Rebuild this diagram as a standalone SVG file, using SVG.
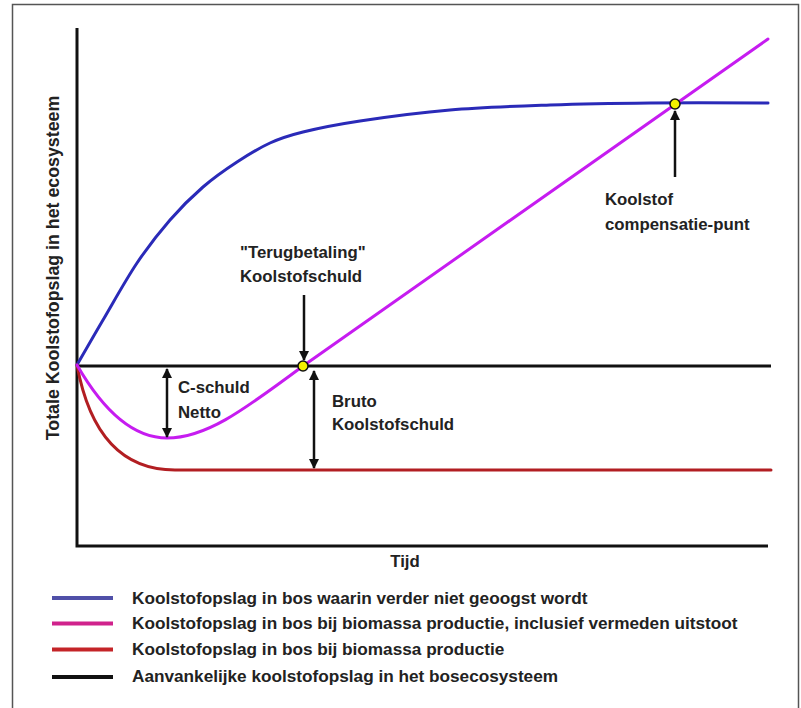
<svg xmlns="http://www.w3.org/2000/svg" width="801" height="708" viewBox="0 0 801 708">
<style>
.t{font-family:"Liberation Sans",Arial,sans-serif;font-weight:bold;font-size:16.8px;fill:#222}
.lg{font-family:"Liberation Sans",Arial,sans-serif;font-weight:bold;font-size:17.2px;fill:#222}
.curve{fill:none;stroke-width:3;stroke-linejoin:round;stroke-linecap:round}
.arr{stroke:#111;stroke-width:2.5;fill:none}
.dot{fill:#f5f000;stroke:#111;stroke-width:1.5}
</style>
<defs>
<marker id="ah" viewBox="0 0 10 10" refX="9" refY="5" markerWidth="10" markerHeight="10" markerUnits="userSpaceOnUse" orient="auto-start-reverse">
<path d="M0,0 L10,5 L0,10 z" fill="#111"/>
</marker>
</defs>
<rect x="0" y="0" width="801" height="708" fill="#fff"/>
<rect id="frame" x="12.5" y="4.5" width="786" height="720" fill="none" stroke="#555" stroke-width="1.5"/>
<g id="axes" stroke="#111" stroke-width="3" fill="none">
<path d="M77,28 V546 H768"/>
</g>
<g id="baseline-line">
<path d="M77,366 H771" stroke="#111" stroke-width="3" fill="none"/>
</g>
<g id="curve-blue">
<path class="curve" stroke="#2a2ab8" d="M77,365 C81.3,357.5 93,337 103,320 C113,303 125.8,279.7 137,263 C148.2,246.3 159,232.7 170,220 C181,207.3 191.8,196.7 203,187 C214.2,177.3 225.8,169.3 237,162 C248.2,154.7 259,148 270,143 C281,138 288,135.7 303,132 C318,128.3 335.5,124.7 360,121 C384.5,117.3 418.3,112.7 450,110 C481.7,107.3 516.7,106.2 550,105 C583.3,103.8 613.7,103.3 650,103 C686.3,102.7 748.3,103 768,103"/>
</g>
<g id="curve-red">
<path class="curve" stroke="#b21e22" d="M77,365 C88,425 115,470 175,470 L771,470"/>
</g>
<g id="curve-magenta">
<path class="curve" stroke="#c61cf0" d="M77,365 C100,405 130,438 167,438 C205,438 240,413 303,366 L768,39"/>
</g>
<g id="connectors">
<line class="arr" x1="167" y1="369" x2="167" y2="437" marker-start="url(#ah)" marker-end="url(#ah)"/>
<line class="arr" x1="314" y1="371" x2="314" y2="468" marker-start="url(#ah)" marker-end="url(#ah)"/>
<line class="arr" x1="304" y1="295" x2="304" y2="360" marker-end="url(#ah)"/>
<line class="arr" x1="675" y1="177" x2="675" y2="111" marker-end="url(#ah)"/>
</g>
<g id="point-payback"><circle class="dot" cx="303" cy="366" r="5"/></g>
<g id="point-compensation"><circle class="dot" cx="675" cy="104" r="5"/></g>
<g id="label-yaxis"><text class="lg" style="font-size:17.8px" transform="translate(59,268) rotate(-90)" text-anchor="middle">Totale Koolstofopslag in het ecosysteem</text></g>
<g id="label-xaxis"><text class="t" x="405" y="567" text-anchor="middle">Tijd</text></g>
<g id="label-payback"><text class="t" x="240" y="258">"Terugbetaling"</text><text class="t" x="240" y="282">Koolstofschuld</text></g>
<g id="label-netto"><text class="t" x="178" y="393">C-schuld</text><text class="t" x="178" y="418">Netto</text></g>
<g id="label-bruto"><text class="t" x="332" y="407">Bruto</text><text class="t" x="332" y="430">Koolstofschuld</text></g>
<g id="label-compensation"><text class="t" x="605" y="205">Koolstof</text><text class="t" x="605" y="230">compensatie-punt</text></g>
<g id="legend">
<line x1="52" y1="598" x2="113" y2="598" stroke="#5050a8" stroke-width="4"/>
<line x1="52" y1="623.5" x2="113" y2="623.5" stroke="#d0228c" stroke-width="4"/>
<line x1="52" y1="649.5" x2="113" y2="649.5" stroke="#c42428" stroke-width="4"/>
<line x1="52" y1="677" x2="113" y2="677" stroke="#111" stroke-width="4"/>
<text class="lg" x="132" y="604">Koolstofopslag in bos waarin verder niet geoogst wordt</text>
<text class="lg" x="132" y="629">Koolstofopslag in bos bij biomassa productie, inclusief vermeden uitstoot</text>
<text class="lg" x="132" y="655">Koolstofopslag in bos bij biomassa productie</text>
<text class="lg" x="132" y="682">Aanvankelijke koolstofopslag in het bosecosysteem</text>
</g>
</svg>
